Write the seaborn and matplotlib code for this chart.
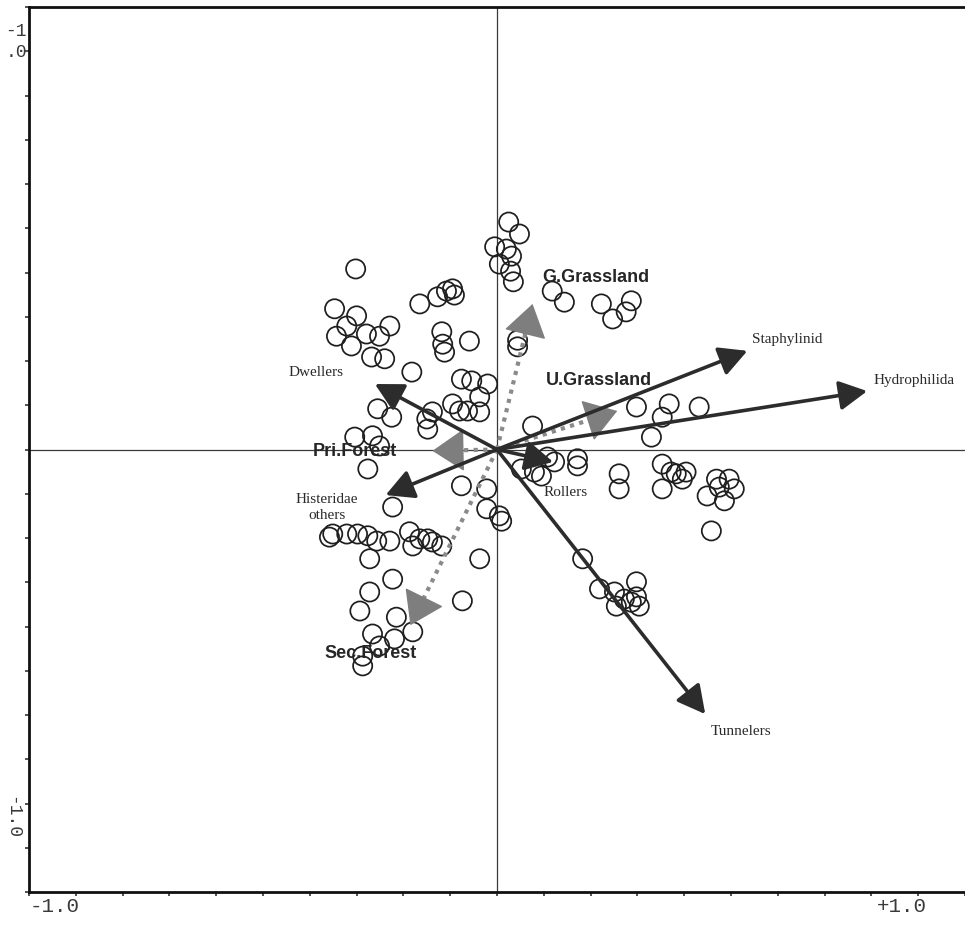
import numpy as np
import pandas as pd
import matplotlib
matplotlib.use("Agg")
import matplotlib.pyplot as plt
import seaborn as sns

# ---------------- data ----------------
sample_x = [0.025, 0.048, -0.005, 0.020, 0.031, 0.005, 0.029, 0.035,
            0.118, 0.144, 0.223, 0.287, 0.276, 0.247, 0.044, 0.044,
            -0.302, -0.347, -0.300, -0.321, -0.343, -0.279, -0.251, -0.229,
            -0.311, -0.268, -0.240, -0.182, -0.165, -0.127, -0.108, -0.095,
            -0.091, -0.118, -0.116, -0.112, -0.059, -0.076, -0.054, -0.020,
            -0.037, -0.095, -0.080, -0.063, -0.037, -0.255, -0.225, -0.150,
            -0.138, -0.148, -0.304, -0.266, -0.251, -0.276,
            -0.076, -0.022, -0.022, 0.005, 0.010, -0.223,
            -0.351, -0.358, -0.321, -0.298, -0.276, -0.257, -0.229, -0.187,
            -0.165, -0.180, -0.148, -0.138, -0.118, -0.272, -0.037, -0.223,
            -0.272, -0.293, -0.074, -0.215, -0.266, -0.219, -0.180, -0.251,
            -0.287, -0.287,
            0.330, 0.108, 0.052, 0.095, 0.080, 0.123, 0.172, 0.172,
            0.261, 0.261, 0.353, 0.372, 0.404, 0.353, 0.383, 0.396,
            0.469, 0.496, 0.507, 0.449, 0.486, 0.475, 0.458, 0.183,
            0.219, 0.251, 0.298, 0.298, 0.255, 0.272, 0.304, 0.287,
            0.298, 0.368, 0.353, 0.432, 0.076]
sample_y = [0.514, 0.487, 0.458, 0.453, 0.437, 0.419, 0.403, 0.379,
            0.358, 0.333, 0.329, 0.336, 0.311, 0.295, 0.247, 0.232,
            0.408, 0.318, 0.302, 0.279, 0.256, 0.261, 0.256, 0.279,
            0.234, 0.209, 0.205, 0.175, 0.329, 0.345, 0.358, 0.363,
            0.349, 0.266, 0.238, 0.220, 0.245, 0.159, 0.155, 0.148,
            0.119, 0.103, 0.087, 0.087, 0.085, 0.092, 0.073, 0.069,
            0.085, 0.046, 0.028, 0.031, 0.008, -0.044,
            -0.082, -0.089, -0.134, -0.150, -0.162, -0.130,
            -0.191, -0.198, -0.191, -0.191, -0.195, -0.207, -0.207, -0.186,
            -0.202, -0.218, -0.202, -0.209, -0.218, -0.247, -0.247, -0.293,
            -0.322, -0.365, -0.342, -0.379, -0.417, -0.428, -0.412, -0.444,
            -0.467, -0.489,
            0.028, -0.017, -0.044, -0.060, -0.051, -0.028, -0.021, -0.037,
            -0.055, -0.089, -0.033, -0.051, -0.051, -0.089, -0.055, -0.067,
            -0.067, -0.067, -0.089, -0.105, -0.116, -0.085, -0.184, -0.247,
            -0.315, -0.322, -0.299, -0.333, -0.354, -0.338, -0.354, -0.345,
            0.096, 0.103, 0.073, 0.096, 0.053]

species = ["Staphylinid", "Hydrophilida", "Tunnelers", "Dwellers", "Histeridae\nothers", "Rollers"]
species_x = [0.535, 0.791, 0.445, -0.261, -0.238, 0.120]
species_y = [0.223, 0.132, -0.598, 0.148, -0.103, -0.028]

env = ["G.Grassland", "U.Grassland", "Pri.Forest", "Sec.Forest"]
env_x = [0.076, 0.257, -0.138, -0.185]
env_y = [0.329, 0.087, -0.003, -0.397]

xtick_labels = ["-1.0", "+1.0"]

# ---------------- layout / style ----------------
species_offsets = {  # label offsets in pixels from arrow tip
    "Staphylinid": (40, 12), "Hydrophilida": (47, 12), "Tunnelers": (36, -16),
    "Dwellers": (-59, 13), "Histeridae\nothers": (-59, -11), "Rollers": (12, -30),
}
env_offsets = {
    "G.Grassland": (63, 27), "U.Grassland": (-18, 32),
    "Pri.Forest": (-78, 0), "Sec.Forest": (-40, -27),
}

sns.set_theme(style="white")
plt.rcParams["font.family"] = ["DejaVu Sans"]

W, H = 965, 928
fig = plt.figure(figsize=(W / 100, H / 100), dpi=100)
ax = fig.add_axes([29 / W, 35 / H, (W - 29) / W, 885 / H])
ax.set_xlim(-1, (W - 497.5) / 468.5)
ax.set_ylim(-1, 1)

ax.axhline(0, color="#3a3a3a", lw=0.9, zorder=1)
ax.axvline(0, color="#3a3a3a", lw=0.9, zorder=1)

df = pd.DataFrame({"x": sample_x, "y": sample_y})
sns.scatterplot(data=df, x="x", y="y", ax=ax, marker="o", s=190,
                facecolors="none", edgecolor="#1e1e1e", linewidth=1.25, zorder=3)

# species arrows
for name, x, y in zip(species, species_x, species_y):
    ax.annotate("", xy=(x, y), xytext=(0, 0),
                arrowprops=dict(arrowstyle="-|>,head_length=0.85,head_width=0.45",
                                mutation_scale=20, lw=2.6, color="#2c2c2c",
                                shrinkA=0, shrinkB=0), zorder=5)
    dx, dy = species_offsets[name]
    ax.annotate(name, xy=(x, y), xytext=(dx, dy), textcoords="offset pixels",
                ha="center", va="center", fontsize=11, color="#2a2a2a",
                family=["Liberation Serif", "DejaVu Serif"], linespacing=1.3, zorder=6)

# environmental centroids (dotted arrows)
for name, x, y in zip(env, env_x, env_y):
    ax.plot([0, x * 0.9], [0, y * 0.9], ls=(0, (1, 1.3)), lw=3.0, color="#8a8a8a",
            zorder=4, solid_capstyle="butt")
    ax.annotate("", xy=(x, y), xytext=(x * 0.9, y * 0.9),
                arrowprops=dict(arrowstyle="-|>,head_length=1.05,head_width=0.7",
                                mutation_scale=20, lw=1.0, color="#7e7e7e",
                                shrinkA=0, shrinkB=0), zorder=4)
    dx, dy = env_offsets[name]
    ax.annotate(name, xy=(x, y), xytext=(dx, dy), textcoords="offset pixels",
                ha="center", va="center", fontsize=13, fontweight="bold",
                color="#262626", family=["Liberation Sans", "DejaVu Sans"], zorder=6)

# axes frame
for side in ["top", "left", "bottom"]:
    ax.spines[side].set_visible(True)
    ax.spines[side].set_color("#111111")
    ax.spines[side].set_linewidth(2.0)
ax.spines["right"].set_visible(False)

ticks = np.round(np.arange(-1.0, 1.0001, 0.1), 2)
ax.set_xticks(ticks)
ax.set_yticks(ticks)
ax.set_xticklabels([])
ax.set_yticklabels([])
ax.tick_params(axis="both", direction="out", length=3, width=1.2, color="#333333",
               bottom=True, left=True, top=False, right=False)
ax.set_xlabel("")
ax.set_ylabel("")

mono = ["Liberation Mono", "DejaVu Sans Mono"]
fig.text(55 / W, 1 - 907 / H, xtick_labels[0], ha="center", va="center",
         fontsize=15, color="#3a3a3a", family=mono)
fig.text(902 / W, 1 - 907 / H, xtick_labels[1], ha="center", va="center",
         fontsize=15, color="#3a3a3a", family=mono)
# vertical-axis labels at the left edge
fig.text(27 / W, 1 - 42 / H, "-1\n.0", ha="right", va="center",
         fontsize=13, color="#3a3a3a", family=mono, linespacing=1.3)
fig.text(12 / W, 1 - 818 / H, "-1.0", ha="center", va="center", rotation=270,
         fontsize=13, color="#3a3a3a", family=mono)

fig.savefig("out.png", dpi=100, facecolor="white")
